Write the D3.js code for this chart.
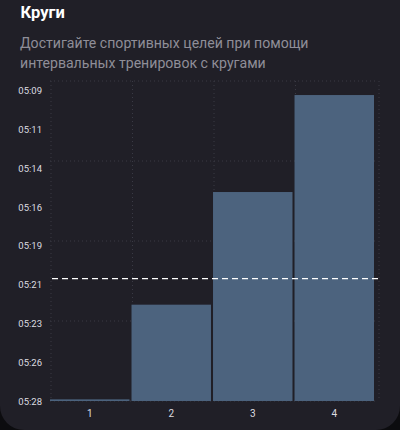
<!DOCTYPE html>
<html>
<head>
<meta charset="utf-8">
<script src="https://cdn.jsdelivr.net/npm/d3@7"></script>
<style>
  html, body { margin: 0; padding: 0; background: #0c0c0f; }
  #card { width: 400px; height: 430px; background: #201f27; border-radius: 0 0 24px 24px; overflow: hidden; }
  text { font-family: Roboto, "Noto Sans", sans-serif; }
</style>
</head>
<body>
<div id="card"></div>
<script>
'use strict'
// data (pace in seconds per km)
const laps       = ["1", "2", "3", "4"];
const lapPace    = [327.9, 322.1, 315.2, 309.26];
const avgPace    = 320.5;
const tickValues = [309, 311.375, 313.75, 316.125, 318.5, 320.875, 323.25, 325.625, 328];

const w = 400, h = 430;
const padL = 50, padR = 378, padT = 81, padB = 401;

const svg = d3.select("#card").append("svg").attr("width", w).attr("height", h);

// titles
svg.append("text").text("Круги")
   .attr("x", 20.5).attr("y", 17.5)
   .style("font-size", "16.5px").style("font-weight", "700").attr("fill", "#ffffff");
svg.append("text").text("Достигайте спортивных целей при помощи")
   .attr("x", 20).attr("y", 48)
   .style("font-size", "14.1px").attr("fill", "#8f8e98");
svg.append("text").text("интервальных тренировок с кругами")
   .attr("x", 20).attr("y", 68)
   .style("font-size", "14.1px").attr("fill", "#8f8e98");

// scales
const x = d3.scaleBand().domain(laps).range([padL, 374]).paddingInner(0.025).paddingOuter(0);
const y = d3.scaleLinear().domain([328, 308.4]).range([padB, padT]);

const fmt = s => {
  const t = Math.round(s);
  return String(Math.floor(t / 60)).padStart(2, "0") + ":" + String(t % 60).padStart(2, "0");
};

// grid
const grid = svg.append("g").attr("stroke", "#3a3a45").attr("stroke-dasharray", "1,3").attr("stroke-width", 1);
d3.range(5).forEach(i => {
  const yy = padT + i * (padB - padT) / 4;
  grid.append("line").attr("x1", padL).attr("x2", padR).attr("y1", yy).attr("y2", yy);
});
laps.map(d => x(d)).concat([padR]).forEach(xx => {
  grid.append("line").attr("x1", xx + 1).attr("x2", xx + 1).attr("y1", padT).attr("y2", padB);
});

// bars
svg.append("g").selectAll("rect")
   .data(laps)
   .enter()
   .append("rect")
   .attr("x", d => x(d))
   .attr("width", x.bandwidth())
   .attr("y", (d, i) => y(lapPace[i]))
   .attr("height", (d, i) => padB - y(lapPace[i]))
   .attr("fill", "#4c637e");

// average line
svg.append("line")
   .attr("x1", padL + 2).attr("x2", padR)
   .attr("y1", y(avgPace)).attr("y2", y(avgPace))
   .attr("stroke", "#ffffff").attr("stroke-width", 1.3).attr("stroke-dasharray", "6,4");

// axes
const yAxis = d3.axisLeft(y).tickValues(tickValues).tickFormat(fmt).tickSize(0).tickPadding(0);
const gy = svg.append("g").attr("transform", "translate(42,0)").call(yAxis);
gy.select(".domain").remove();
gy.selectAll("text").attr("fill", "#dcdce0").style("font-size", "9.5px");

const xAxis = d3.axisBottom(x).tickSize(0).tickPadding(0);
const gx = svg.append("g").attr("transform", "translate(0,410)").call(xAxis);
gx.select(".domain").remove();
gx.selectAll("text").attr("fill", "#dcdce0").style("font-size", "10px");
</script>
</body>
</html>
